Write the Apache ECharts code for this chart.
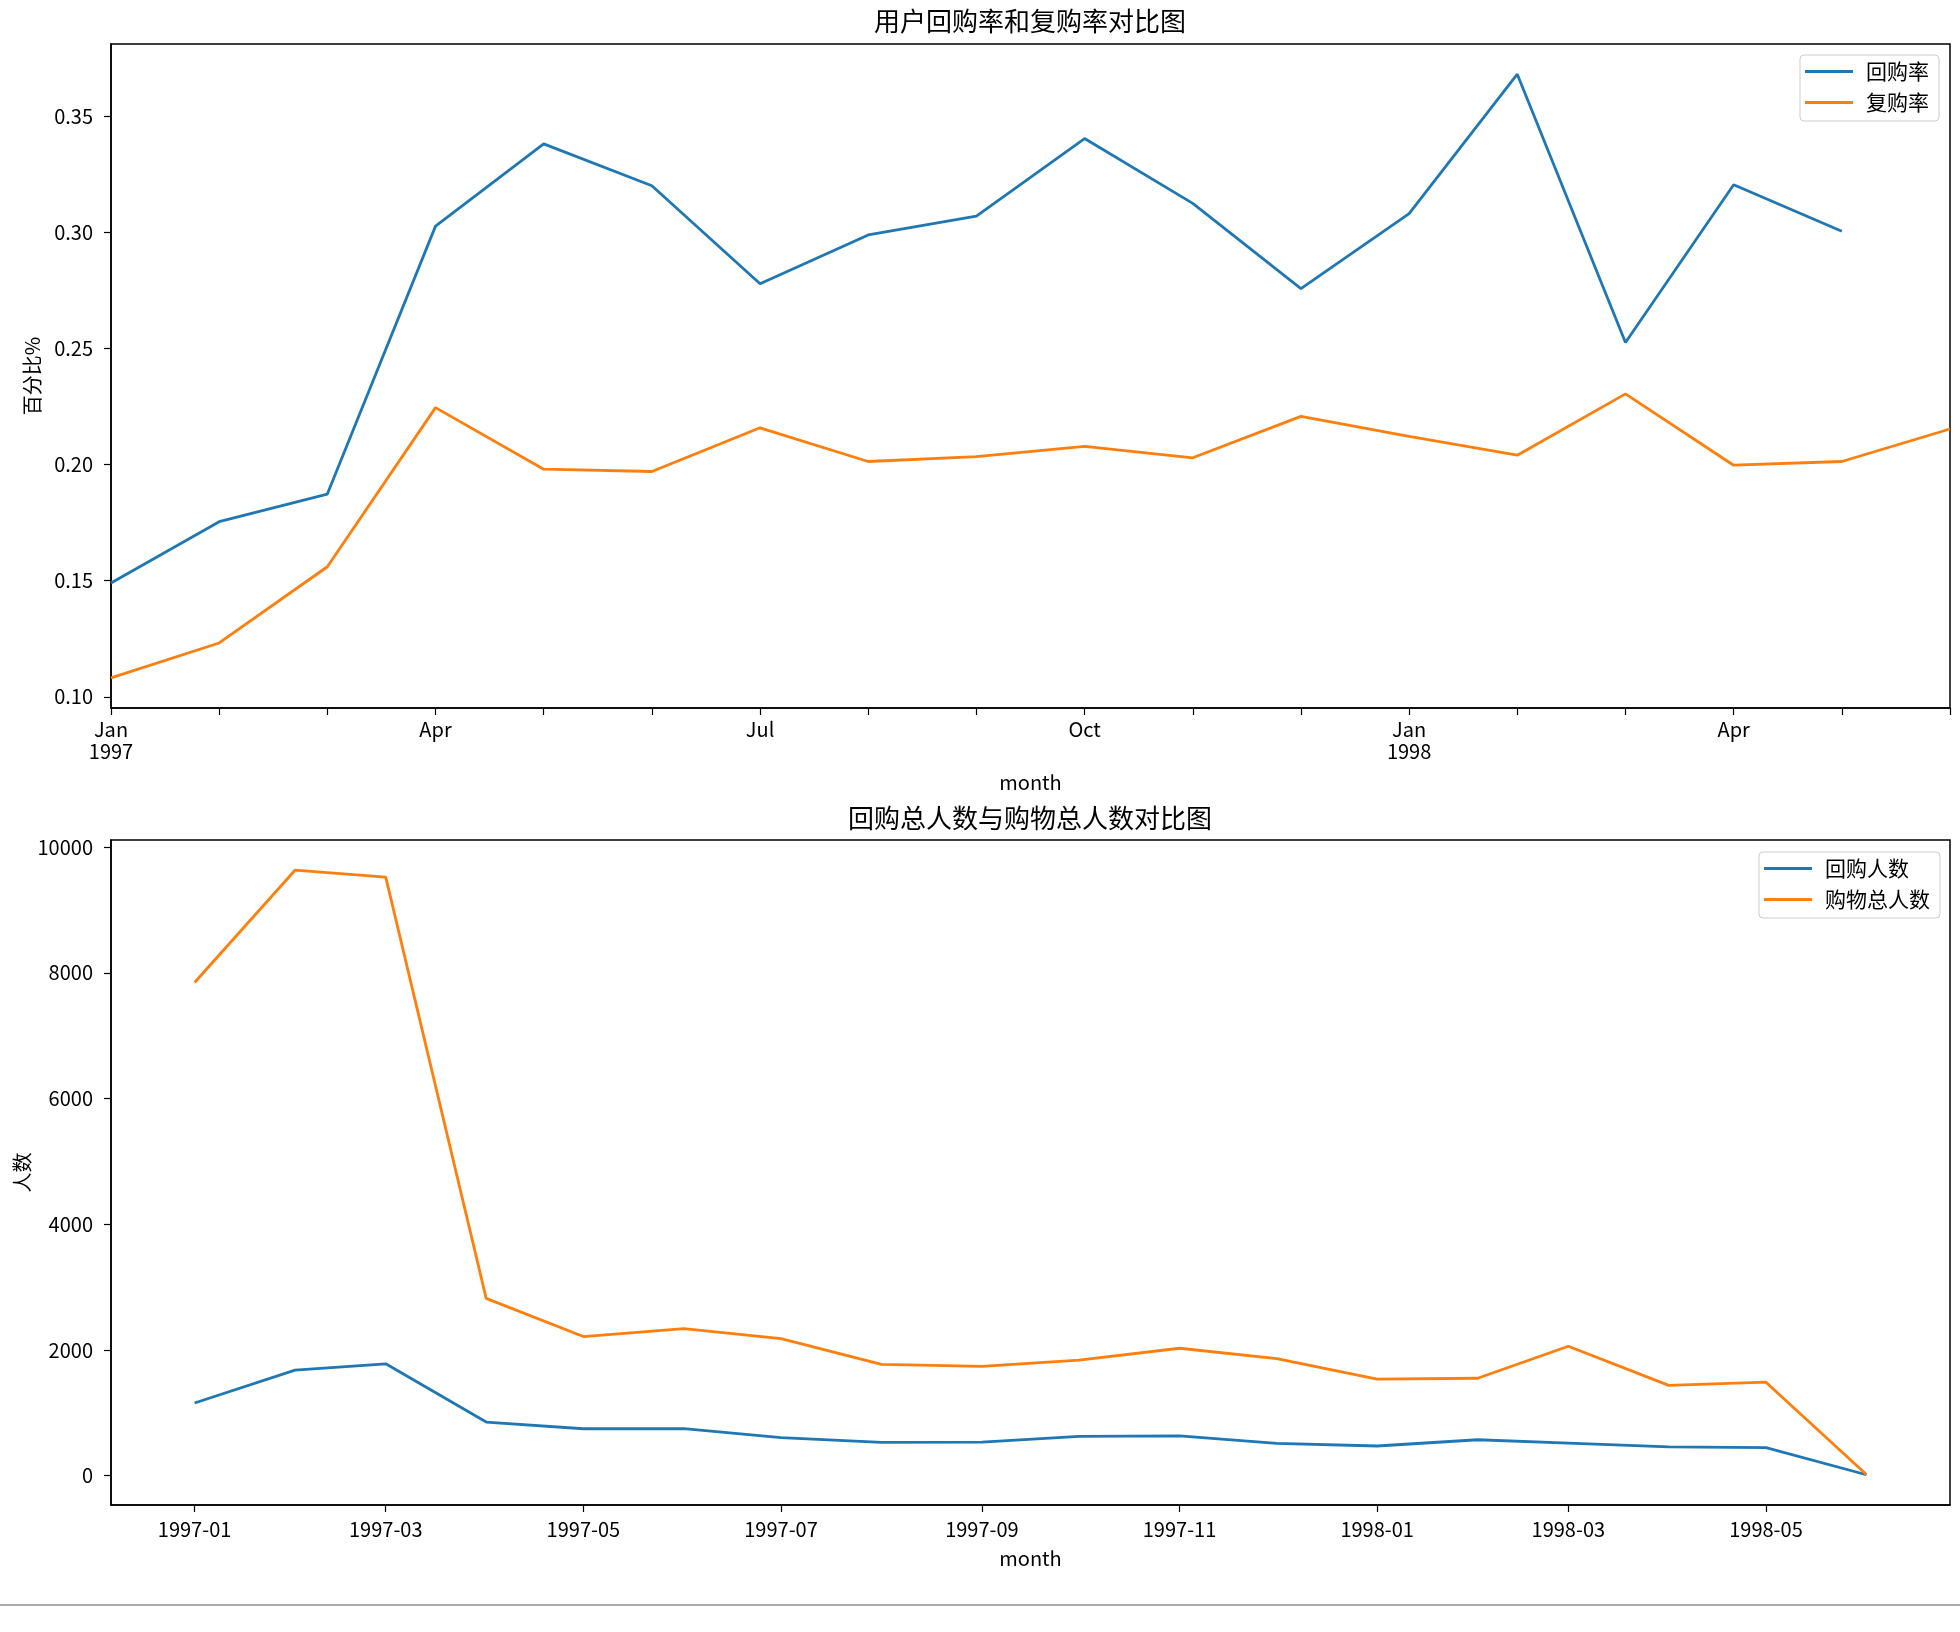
<!DOCTYPE html>
<html><head><meta charset="utf-8">
<script src="https://cdn.jsdelivr.net/npm/echarts@6/dist/echarts.min.js"></script>
<style>html,body{margin:0;padding:0;background:#fff}#c{width:1960px;height:1632px}</style>
</head><body><div id="c"></div>
<script>
// ---- data ----
const months = ['1997-01','1997-02','1997-03','1997-04','1997-05','1997-06','1997-07','1997-08','1997-09','1997-10','1997-11','1997-12','1998-01','1998-02','1998-03','1998-04','1998-05','1998-06'];
const topTickLabels = ['Jan\n1997','','','Apr','','','Jul','','','Oct','','','Jan\n1998','','','Apr','',''];
const repurchaseRate = [0.149,0.1754,0.1873,0.3026,0.338,0.320,0.2778,0.2988,0.3069,0.3403,0.3124,0.2757,0.308,0.368,0.2525,0.3204,0.3004,null];
const reorderRate = [0.1082,0.1232,0.156,0.2245,0.198,0.197,0.2158,0.2013,0.2034,0.2078,0.2029,0.2207,0.2121,0.204,0.2304,0.1997,0.2013,0.2153];
const topYTicks = [0.10,0.15,0.20,0.25,0.30,0.35];

const repeatBuyers = [1157,1680,1780,854,747,748,606,529,534,626,634,514,473,572,520,460,447,15];
const totalBuyers = [7846,9633,9524,2822,2214,2339,2180,1772,1739,1839,2028,1864,1537,1551,2060,1437,1488,20];
const bottomTickLabels = ['1997-01','1997-03','1997-05','1997-07','1997-09','1997-11','1998-01','1998-03','1998-05'];
const bottomYTicks = [0,2000,4000,6000,8000,10000];

// ---- helpers ----
const FONT = "'Noto Sans CJK SC', 'Noto Sans', sans-serif";
const toTs = s => { const [y,m] = s.split('-').map(Number); return Date.UTC(y, m-1, 1); };
const fmtTs = v => { const d = new Date(v); return d.getUTCFullYear() + '-' + String(d.getUTCMonth()+1).padStart(2,'0'); };
const C0 = '#1f77b4', C1 = '#ff7f0e';

const allTop = repurchaseRate.concat(reorderRate).filter(v => v != null);
const tMin = Math.min(...allTop), tMax = Math.max(...allTop), tPad = (tMax - tMin) * 0.05;
const allBot = repeatBuyers.concat(totalBuyers);
const bMin = Math.min(...allBot), bMax = Math.max(...allBot), bPad = (bMax - bMin) * 0.05;
const ts = months.map(toTs);
const xSpan = ts[ts.length-1] - ts[0], xPad = xSpan * 0.05;

const txt = {color:'#000', fontFamily: FONT, fontSize: 20};
const LW = 2.8;

const chart = echarts.init(document.getElementById('c'), null, {renderer:'canvas'});
chart.setOption({
  animation: false,
  backgroundColor: '#fff',
  title: [
    {text:'用户回购率和复购率对比图', left:1030, top:8, textAlign:'center', padding:0,
     textStyle:{color:'#000', fontFamily:FONT, fontSize:26, fontWeight:'normal'}},
    {text:'回购总人数与购物总人数对比图', left:1030, top:805, textAlign:'center', padding:0,
     textStyle:{color:'#000', fontFamily:FONT, fontSize:26, fontWeight:'normal'}}
  ],
  legend: [
    {data:['回购率','复购率'], orient:'vertical', right:21, top:55, icon:'rect', itemWidth:48, itemHeight:3,
     itemGap:10, padding:[6,10,8,5], borderColor:'#cccccc', borderWidth:1, borderRadius:4, backgroundColor:'rgba(255,255,255,0.8)',
     textStyle:{color:'#000', fontFamily:FONT, fontSize:21, lineHeight:21, padding:[0,0,0,8]}},
    {data:['回购人数','购物总人数'], orient:'vertical', right:20, top:852, icon:'rect', itemWidth:48, itemHeight:3,
     itemGap:10, padding:[6,10,8,5], borderColor:'#cccccc', borderWidth:1, borderRadius:4, backgroundColor:'rgba(255,255,255,0.8)',
     textStyle:{color:'#000', fontFamily:FONT, fontSize:21, lineHeight:21, padding:[0,0,0,8]}}
  ],
  grid: [
    {left:111, top:44, width:1839, height:664, show:true, borderColor:'#000', borderWidth:1.5, outerBoundsMode:'none', containLabel:false},
    {left:111, top:840, width:1839, height:665, show:true, borderColor:'#000', borderWidth:1.5, outerBoundsMode:'none', containLabel:false}
  ],
  xAxis: [
    {type:'category', gridIndex:0, data:months, boundaryGap:false,
     name:'month', nameLocation:'middle', nameGap:64, nameMoveOverlap:false,
     nameTextStyle:Object.assign({lineHeight:20}, txt),
     axisLine:{show:true, onZero:false, lineStyle:{color:'#000', width:1.5}},
     axisTick:{show:true, interval:0, length:7, lineStyle:{color:'#000', width:1.2}},
     axisLabel:Object.assign({interval:0, margin:10, lineHeight:22, formatter:(v,i)=>topTickLabels[i]}, txt),
     splitLine:{show:false}},
    {type:'value', gridIndex:1, min:ts[0]-xPad, max:ts[ts.length-1]+xPad,
     name:'month', nameLocation:'middle', nameGap:43, nameMoveOverlap:false,
     nameTextStyle:Object.assign({lineHeight:20}, txt),
     axisLine:{show:true, onZero:false, lineStyle:{color:'#000', width:1.5}},
     axisTick:{show:true, length:7, customValues:bottomTickLabels.map(toTs), lineStyle:{color:'#000', width:1.2}},
     axisLabel:Object.assign({margin:14, lineHeight:20, customValues:bottomTickLabels.map(toTs), formatter:v=>fmtTs(v)}, txt),
     splitLine:{show:false}}
  ],
  yAxis: [
    {type:'value', gridIndex:0, min:tMin-tPad, max:tMax+tPad,
     name:'百分比%', nameLocation:'middle', nameGap:69, nameMoveOverlap:false,
     nameTextStyle:Object.assign({lineHeight:20}, txt),
     axisLine:{show:true, lineStyle:{color:'#000', width:1.5}},
     axisTick:{show:true, length:7, customValues:topYTicks, lineStyle:{color:'#000', width:1.2}},
     axisLabel:Object.assign({margin:18, customValues:topYTicks, formatter:v=>v.toFixed(2)}, txt),
     splitLine:{show:false}},
    {type:'value', gridIndex:1, min:bMin-bPad, max:bMax+bPad,
     name:'人数', nameLocation:'middle', nameGap:79, nameMoveOverlap:false,
     nameTextStyle:Object.assign({lineHeight:20}, txt),
     axisLine:{show:true, lineStyle:{color:'#000', width:1.5}},
     axisTick:{show:true, length:7, customValues:bottomYTicks, lineStyle:{color:'#000', width:1.2}},
     axisLabel:Object.assign({margin:18, customValues:bottomYTicks, formatter:v=>String(v)}, txt),
     splitLine:{show:false}}
  ],
  series: [
    {name:'回购率', type:'line', xAxisIndex:0, yAxisIndex:0, data:repurchaseRate, symbol:'none', color:C0, lineStyle:{width:LW, color:C0}},
    {name:'复购率', type:'line', xAxisIndex:0, yAxisIndex:0, data:reorderRate, symbol:'none', color:C1, lineStyle:{width:LW, color:C1}},
    {name:'回购人数', type:'line', xAxisIndex:1, yAxisIndex:1, data:ts.map((t,i)=>[t, repeatBuyers[i]]), symbol:'none', color:C0, lineStyle:{width:LW, color:C0}},
    {name:'购物总人数', type:'line', xAxisIndex:1, yAxisIndex:1, data:ts.map((t,i)=>[t, totalBuyers[i]]), symbol:'none', color:C1, lineStyle:{width:LW, color:C1}}
  ],
  graphic: [
    {type:'rect', left:0, top:1604, shape:{width:1960, height:2}, style:{fill:'#aaaaaa'}, silent:true}
  ]
});
</script>
</body></html>
